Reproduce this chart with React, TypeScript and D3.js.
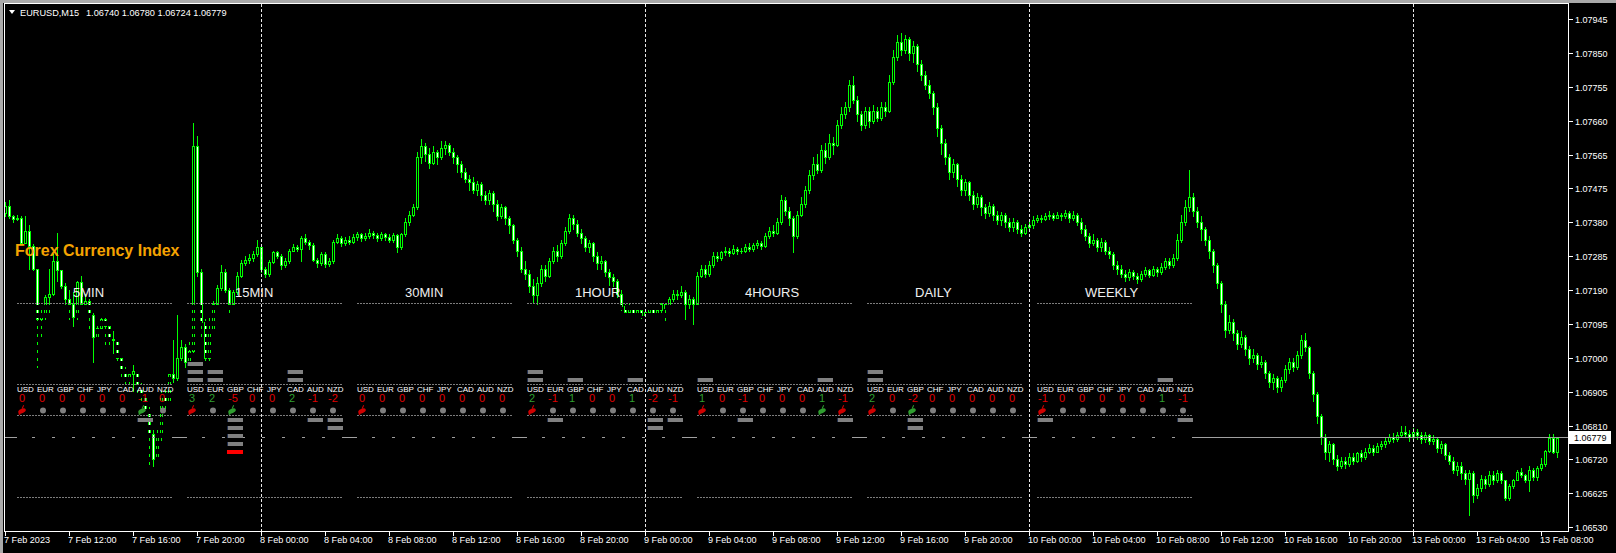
import React from "react";
import * as d3 from "d3";

const W = 1616;
const H = 553;

// Prices are stored in points above 1.06000 (1 point = 0.00001)
const symbolText = "EURUSD,M15";
const ohlcText = "1.06740 1.06780 1.06724 1.06779";
const lastPrice = "1.06779";
const firstOpen = 1405;

const closes = [
  1425,1395,1388,1392,1322,1355,1312,1250,1110,1120,1170,1180,1270,1245,1200,1165,
  1150,1115,1212,1150,1160,1120,1060,1085,1110,1090,1055,1050,1000,960,940,955,
  965,920,895,860,790,720,780,900,880,955,945,1000,1030,990,1020,1590,
  1240,1100,1000,1080,1150,1195,1240,1190,1150,1185,1230,1265,1275,1280,1290,1310,
  1250,1235,1268,1295,1285,1260,1272,1300,1310,1305,1335,1325,1315,1275,1265,1290,
  1262,1270,1325,1335,1320,1330,1325,1338,1345,1335,1340,1350,1342,1335,1345,1338,
  1330,1342,1310,1345,1380,1400,1420,1560,1590,1570,1545,1575,1560,1585,1595,1575,
  1560,1540,1520,1500,1490,1470,1485,1455,1440,1460,1430,1395,1420,1390,1370,1330,
  1300,1250,1235,1200,1175,1210,1250,1230,1270,1300,1285,1320,1355,1390,1375,1350,
  1335,1310,1320,1285,1265,1270,1240,1225,1215,1180,1145,1130,1140,1125,1135,1120,
  1130,1140,1125,1135,1150,1140,1165,1180,1175,1185,1150,1165,1150,1230,1250,1235,
  1260,1285,1280,1295,1300,1292,1305,1298,1300,1310,1305,1315,1320,1312,1340,1355,
  1348,1380,1440,1410,1390,1340,1400,1430,1470,1510,1540,1525,1580,1560,1600,1595,
  1650,1680,1700,1760,1720,1680,1650,1690,1660,1690,1670,1700,1690,1770,1840,1880,
  1860,1890,1850,1870,1820,1790,1760,1740,1700,1640,1600,1560,1520,1540,1500,1470,
  1490,1455,1430,1450,1420,1405,1425,1400,1385,1400,1380,1365,1380,1360,1350,1365,
  1370,1385,1392,1388,1395,1400,1392,1400,1395,1405,1390,1400,1380,1360,1340,1320,
  1330,1310,1325,1300,1290,1260,1250,1235,1225,1240,1230,1220,1235,1245,1232,1250,
  1240,1255,1270,1260,1280,1330,1380,1420,1450,1410,1380,1360,1330,1300,1260,1210,
  1150,1080,1100,1070,1040,1060,1025,1000,1010,985,990,960,935,945,920,940,
  970,990,975,1010,1050,1030,960,900,840,780,740,760,720,700,715,705,
  725,715,735,725,740,750,740,755,760,770,780,775,785,795,790,780,
  795,785,775,785,770,775,750,760,730,715,690,700,680,665,680,620,
  640,665,650,675,660,680,660,612,645,662,684,675,660,690,668,695,
  705,742,778,740,779,
];

const highs = [
  1435,1440,1400,1398,1395,1395,1370,1318,1250,1135,1175,1250,1290,1350,1245,1210,
  1190,1185,1215,1230,1180,1165,1125,1100,1120,1115,1100,1075,1060,1010,975,970,
  980,965,930,900,865,800,800,910,920,965,1050,1120,1050,1040,1060,1655,
  1620,1250,1110,1115,1160,1205,1260,1250,1195,1190,1240,1275,1285,1290,1300,1330,
  1315,1255,1275,1300,1300,1290,1280,1305,1318,1315,1340,1345,1330,1320,1280,1295,
  1295,1280,1330,1345,1340,1338,1340,1345,1352,1350,1348,1360,1355,1348,1352,1350,
  1345,1350,1345,1350,1390,1410,1430,1575,1610,1600,1585,1590,1580,1605,1605,1600,
  1585,1565,1550,1530,1510,1505,1495,1490,1465,1470,1465,1440,1430,1425,1395,1375,
  1335,1310,1270,1245,1220,1225,1260,1260,1280,1310,1315,1330,1365,1401,1398,1385,
  1360,1340,1330,1325,1295,1285,1275,1250,1235,1220,1190,1150,1150,1145,1140,1140,
  1140,1148,1145,1140,1155,1155,1170,1190,1190,1200,1190,1175,1170,1240,1260,1260,
  1270,1295,1295,1300,1310,1308,1315,1310,1308,1318,1320,1322,1330,1328,1350,1365,
  1370,1390,1455,1450,1420,1395,1410,1450,1480,1525,1560,1568,1595,1600,1625,1615,
  1665,1700,1715,1775,1785,1730,1690,1700,1700,1705,1700,1715,1715,1790,1860,1900,
  1906,1900,1895,1885,1875,1830,1800,1775,1745,1710,1650,1610,1570,1555,1545,1510,
  1500,1495,1465,1460,1455,1430,1435,1430,1410,1408,1405,1390,1390,1385,1370,1375,
  1380,1395,1400,1398,1405,1410,1405,1408,1405,1412,1410,1410,1405,1390,1370,1350,
  1345,1335,1335,1330,1310,1295,1270,1260,1245,1248,1245,1238,1242,1255,1250,1258,
  1255,1265,1280,1278,1290,1345,1400,1440,1525,1460,1420,1395,1365,1340,1305,1265,
  1215,1160,1120,1110,1080,1075,1065,1035,1025,1015,1005,995,965,955,950,948,
  980,1000,1000,1020,1065,1070,1035,965,905,845,790,770,765,730,725,725,
  735,735,740,745,750,760,758,765,770,780,790,792,795,810,812,800,
  805,802,795,795,790,785,780,770,765,740,725,710,710,690,690,685,
  650,675,672,685,685,690,685,660,650,665,688,695,678,700,694,700,
  722,745,790,790,780,
];

const lows = [
  1395,1390,1380,1385,1318,1320,1250,1245,975,1050,1110,1125,1175,1215,1195,1140,
  1110,1090,1110,1140,1140,1085,990,1050,1075,1040,1030,1015,985,945,920,925,
  910,900,880,850,705,700,715,770,860,870,935,940,995,975,985,1010,
  1230,1060,985,980,1070,1140,1190,1185,1130,1145,1180,1225,1260,1265,1270,1285,
  1240,1225,1230,1265,1280,1250,1255,1265,1298,1298,1270,1318,1305,1270,1255,1260,
  1255,1258,1265,1320,1312,1315,1318,1320,1330,1328,1330,1335,1335,1328,1330,1330,
  1325,1325,1295,1305,1340,1370,1395,1415,1545,1550,1530,1540,1540,1555,1570,1565,
  1545,1520,1505,1490,1470,1460,1455,1440,1430,1430,1410,1385,1390,1375,1350,1320,
  1285,1240,1220,1185,1155,1150,1200,1215,1225,1265,1270,1280,1315,1350,1360,1340,
  1320,1300,1295,1270,1250,1250,1230,1205,1200,1170,1135,1115,1120,1115,1120,1112,
  1115,1125,1118,1120,1130,1100,1140,1160,1165,1170,1110,1140,1095,1145,1225,1225,
  1230,1255,1270,1275,1288,1285,1290,1290,1292,1295,1298,1300,1308,1305,1310,1335,
  1340,1345,1375,1400,1370,1295,1335,1395,1420,1460,1500,1515,1520,1545,1555,1570,
  1590,1640,1670,1690,1710,1660,1635,1640,1645,1655,1660,1665,1675,1685,1765,1830,
  1845,1850,1830,1825,1800,1775,1750,1725,1680,1620,1570,1540,1500,1505,1480,1455,
  1455,1440,1415,1420,1400,1390,1395,1385,1375,1370,1365,1355,1355,1350,1340,1345,
  1355,1362,1380,1380,1385,1388,1385,1390,1385,1390,1380,1385,1370,1350,1330,1310,
  1315,1300,1300,1290,1280,1250,1235,1225,1215,1218,1220,1210,1215,1228,1225,1228,
  1230,1235,1250,1252,1255,1275,1325,1370,1410,1395,1365,1330,1315,1280,1240,1195,
  1130,1060,1070,1050,1025,1030,1010,985,990,970,975,945,920,915,905,910,
  935,960,965,970,1000,1020,945,880,820,760,720,715,705,690,695,695,
  700,705,710,715,720,735,730,738,748,752,765,768,770,780,780,770,
  775,775,765,768,760,762,740,735,720,705,680,675,665,650,564,600,
  610,630,640,645,650,655,652,605,605,640,660,670,655,630,660,662,
  690,700,738,735,724,
];

const timeLabels = [
  "7 Feb 2023","7 Feb 12:00","7 Feb 16:00","7 Feb 20:00",
  "8 Feb 00:00","8 Feb 04:00","8 Feb 08:00","8 Feb 12:00","8 Feb 16:00","8 Feb 20:00",
  "9 Feb 00:00","9 Feb 04:00","9 Feb 08:00","9 Feb 12:00","9 Feb 16:00","9 Feb 20:00",
  "10 Feb 00:00","10 Feb 04:00","10 Feb 08:00","10 Feb 12:00","10 Feb 16:00","10 Feb 20:00",
  "13 Feb 00:00","13 Feb 04:00","13 Feb 08:00",
];
const separatorBars = [64, 160, 256, 352];

const priceTicks = [
  "1.07945","1.07850","1.07755","1.07660","1.07565","1.07475","1.07380","1.07285",
  "1.07190","1.07095","1.07000","1.06905","1.06810","1.06720","1.06625","1.06530",
];

const currencies = ["USD","EUR","GBP","CHF","JPY","CAD","AUD","NZD"];
const timeframes = ["5MIN","15MIN","30MIN","1HOUR","4HOURS","DAILY","WEEKLY"];

const strength5M = [0, 0, 0, 0, 0, 0, -1, 0];
const strength15M = [3, 2, -5, 0, 0, 2, -1, -2];
const strength30M = [0, 0, 0, 0, 0, 0, 0, 0];
const strength1H = [2, -1, 1, 0, 0, 1, -2, -1];
const strength4H = [1, 0, -1, 0, 0, 0, 1, -1];
const strengthD1 = [2, 0, -2, 0, 0, 0, 0, 0];
const strengthW1 = [-1, 0, 0, 0, 0, 0, 1, -1];

// signal icons: -1 red, 1 green, 0 plain dot
const signal5M = [-1, 0, 0, 0, 0, 0, 1, 0];
const signal15M = [-1, 0, 1, 0, 0, 0, 0, 0];
const signal30M = [-1, 0, 0, 0, 0, 0, 0, 0];
const signal1H = [-1, 0, 0, 0, 0, 0, 0, 0];
const signal4H = [-1, 0, 0, 0, 0, 0, 1, -1];
const signalD1 = [-1, 0, 1, 0, 0, 0, 0, 0];
const signalW1 = [-1, 0, 0, 0, 0, 0, 0, 0];

const indicatorTitle = "Forex Currency Index";

const strengths = [strength5M, strength15M, strength30M, strength1H, strength4H, strengthD1, strengthW1];
const signals = [signal5M, signal15M, signal30M, signal1H, signal4H, signalD1, signalW1];

const LIME = "#00ff00";
const FONT = "'Liberation Sans', Arial, sans-serif";

const toPts = (s: string) => Math.round((parseFloat(s) - 1.06) * 100000);

export default function App() {
  const n = Math.min(closes.length, highs.length, lows.length);
  const x = d3.scaleLinear().domain([0, 388]).range([5, 1557]);
  const y = d3.scaleLinear().domain([530, 1945]).range([527, 19]);

  const candles = d3.range(n).map((i) => {
    const o = i === 0 ? firstOpen : closes[i - 1];
    const c = closes[i];
    const hi = Math.max(highs[i], o, c);
    const lo = Math.min(lows[i], o, c);
    const cx = Math.round(x(i));
    const yH = Math.round(y(hi));
    const yL = Math.round(y(lo));
    const yO = Math.round(y(o));
    const yC = Math.round(y(c));
    const top = Math.min(yO, yC);
    const bot = Math.max(yO, yC);
    const bull = c >= o;
    return (
      <g key={i}>
        <rect x={cx} y={yH} width={1} height={Math.max(1, yL - yH + 1)} fill={LIME} />
        <rect x={cx - 1} y={top} width={3} height={bot - top + 1} fill={LIME} />
        {bot - top >= 2 && (
          <rect x={cx} y={top + 1} width={1} height={bot - top - 1} fill={bull ? "#000" : "#fff"} />
        )}
      </g>
    );
  });

  const bidY = Math.floor(y(toPts(lastPrice))) + 0.5;

  const panelX = (p: number) => 17 + 170 * p;

  return (
    <div style={{ position: "fixed", left: 0, top: 0, width: W, height: H, background: "#000" }}>
      <svg width={W} height={H} style={{ display: "block" }} shapeRendering="crispEdges">
        <defs>
          {timeframes.map((tf, p) => (
            <pattern
              key={tf}
              id={`cover${p}`}
              patternUnits="userSpaceOnUse"
              x={panelX(p) + 18}
              y={313}
              width={20}
              height={8}
            >
              <rect x={0} y={0} width={17} height={5} fill="#000" />
            </pattern>
          ))}
        </defs>
        <rect x={0} y={0} width={W} height={H} fill="#000" />
        <rect x={0} y={0} width={W} height={3} fill="#a9a9a9" />
        <rect x={0} y={0} width={3} height={H} fill="#a9a9a9" />

        {/* candles */}
        <g>{candles}</g>

        {/* bid line */}
        <line x1={4} x2={1568} y1={bidY} y2={bidY} stroke="#a0a0a0" strokeWidth={1} />

        {/* indicator panels */}
        {timeframes.map((tf, p) => {
          const x0 = panelX(p);
          const vals = strengths[p];
          const sig = signals[p];
          return (
            <g key={tf}>
              <rect x={x0} y={305} width={156} height={192} fill={`url(#cover${p})`} />
              {[303.5, 384.5, 415.5, 497.5].map((ly) => (
                <line key={ly} x1={x0} x2={x0 + 156} y1={ly} y2={ly} stroke="#7c7c7c" strokeDasharray="2,1" />
              ))}
              <text
                x={x0 + (p === 0 ? 56 : 48)}
                y={297}
                fill="#f0f0f0"
                fontFamily={FONT}
                fontSize={13}
                shapeRendering="auto"
              >
                {tf}
              </text>
              {currencies.map((cur, j) => {
                const cx = x0 + 20 * j;
                const v = vals[j];
                const bars = d3.range(Math.abs(v)).map((k) => {
                  const by = v > 0 ? 378 - 8 * k : 418 + 8 * k;
                  const red = v < 0 && k >= 4;
                  return (
                    <g key={k}>
                      <rect x={cx} y={by} width={16} height={4} fill={red ? "#ff0000" : "#808080"} />
                      {!red && <rect x={cx} y={by} width={1} height={4} fill="#1e2c4c" />}
                    </g>
                  );
                });
                const s = sig[j];
                return (
                  <g key={cur}>
                    {bars}
                    <text x={cx} y={392} fill="#ffffff" fontFamily={FONT} fontSize={8}>
                      {cur}
                    </text>
                    <text
                      x={cx + (v < 0 ? 1 : 2)}
                      y={402}
                      fill={v > 0 ? "#2f9e2f" : "#e00000"}
                      fontFamily={FONT}
                      fontSize={11}
                    >
                      {v}
                    </text>
                    {s === 0 ? (
                      <circle cx={cx + 6} cy={410.5} r={3} fill="#808080" shapeRendering="auto" />
                    ) : (
                      <g transform={`translate(${cx + 5},411) rotate(-25)`} shapeRendering="auto">
                        <ellipse cx={0} cy={0} rx={4} ry={2.2} fill={s > 0 ? "#2f9e2f" : "#d00000"} />
                        <path d="M1,-2 L4,-4.5" stroke={s > 0 ? "#2f9e2f" : "#d00000"} strokeWidth={1} />
                        <circle cx={-3.5} cy={1.5} r={1} fill={s > 0 ? "#2f9e2f" : "#d00000"} />
                      </g>
                    )}
                  </g>
                );
              })}
            </g>
          );
        })}

        {/* period separators */}
        {separatorBars.map((b) => {
          const sx = Math.round(x(b)) + 0.5;
          return <line key={b} x1={sx} x2={sx} y1={4} y2={531} stroke="#e8e8e8" strokeDasharray="3,2" />;
        })}

        {/* indicator title */}
        <text
          x={15}
          y={256}
          fill="#f5a300"
          fontFamily={FONT}
          fontWeight="bold"
          fontSize={16}
          shapeRendering="auto"
        >
          {indicatorTitle}
        </text>

        {/* frame */}
        <line x1={4.5} x2={4.5} y1={4} y2={531} stroke="#ffffff" />
        <line x1={1568.5} x2={1568.5} y1={4} y2={531} stroke="#ffffff" />
        <line x1={4} x2={1569} y1={531.5} y2={531.5} stroke="#ffffff" />
        <line x1={4} x2={1569} y1={3.5} y2={3.5} stroke="#ffffff" />

        {/* time axis */}
        {timeLabels.map((lab, k) => {
          const tx = Math.round(x(k * 16));
          return (
            <g key={lab}>
              <line x1={tx + 0.5} x2={tx + 0.5} y1={532} y2={536} stroke="#ffffff" />
              <text x={tx - 1} y={543} fill="#ffffff" fontFamily={FONT} fontSize={9.1}>
                {lab}
              </text>
            </g>
          );
        })}

        {/* price axis */}
        {priceTicks.map((t) => {
          const ty = Math.round(y(toPts(t))) + 0.5;
          return (
            <g key={t}>
              <line x1={1569} x2={1573} y1={ty} y2={ty} stroke="#ffffff" />
              <text x={1575} y={ty + 3.3} fill="#ffffff" fontFamily={FONT} fontSize={9}>
                {t}
              </text>
            </g>
          );
        })}
        <rect x={1569} y={bidY - 6.5} width={42} height={13} fill="#ffffff" />
        <text x={1574} y={bidY + 3.3} fill="#000000" fontFamily={FONT} fontSize={9}>
          {lastPrice}
        </text>

        {/* header */}
        <polygon points="9,10 15,10 12,14" fill="#ffffff" shapeRendering="auto" />
        <text x={20} y={16} fill="#ffffff" fontFamily={FONT} fontSize={9.2}>
          {symbolText}
        </text>
        <text x={86} y={16} fill="#ffffff" fontFamily={FONT} fontSize={9.2}>
          {ohlcText}
        </text>
      </svg>
    </div>
  );
}
